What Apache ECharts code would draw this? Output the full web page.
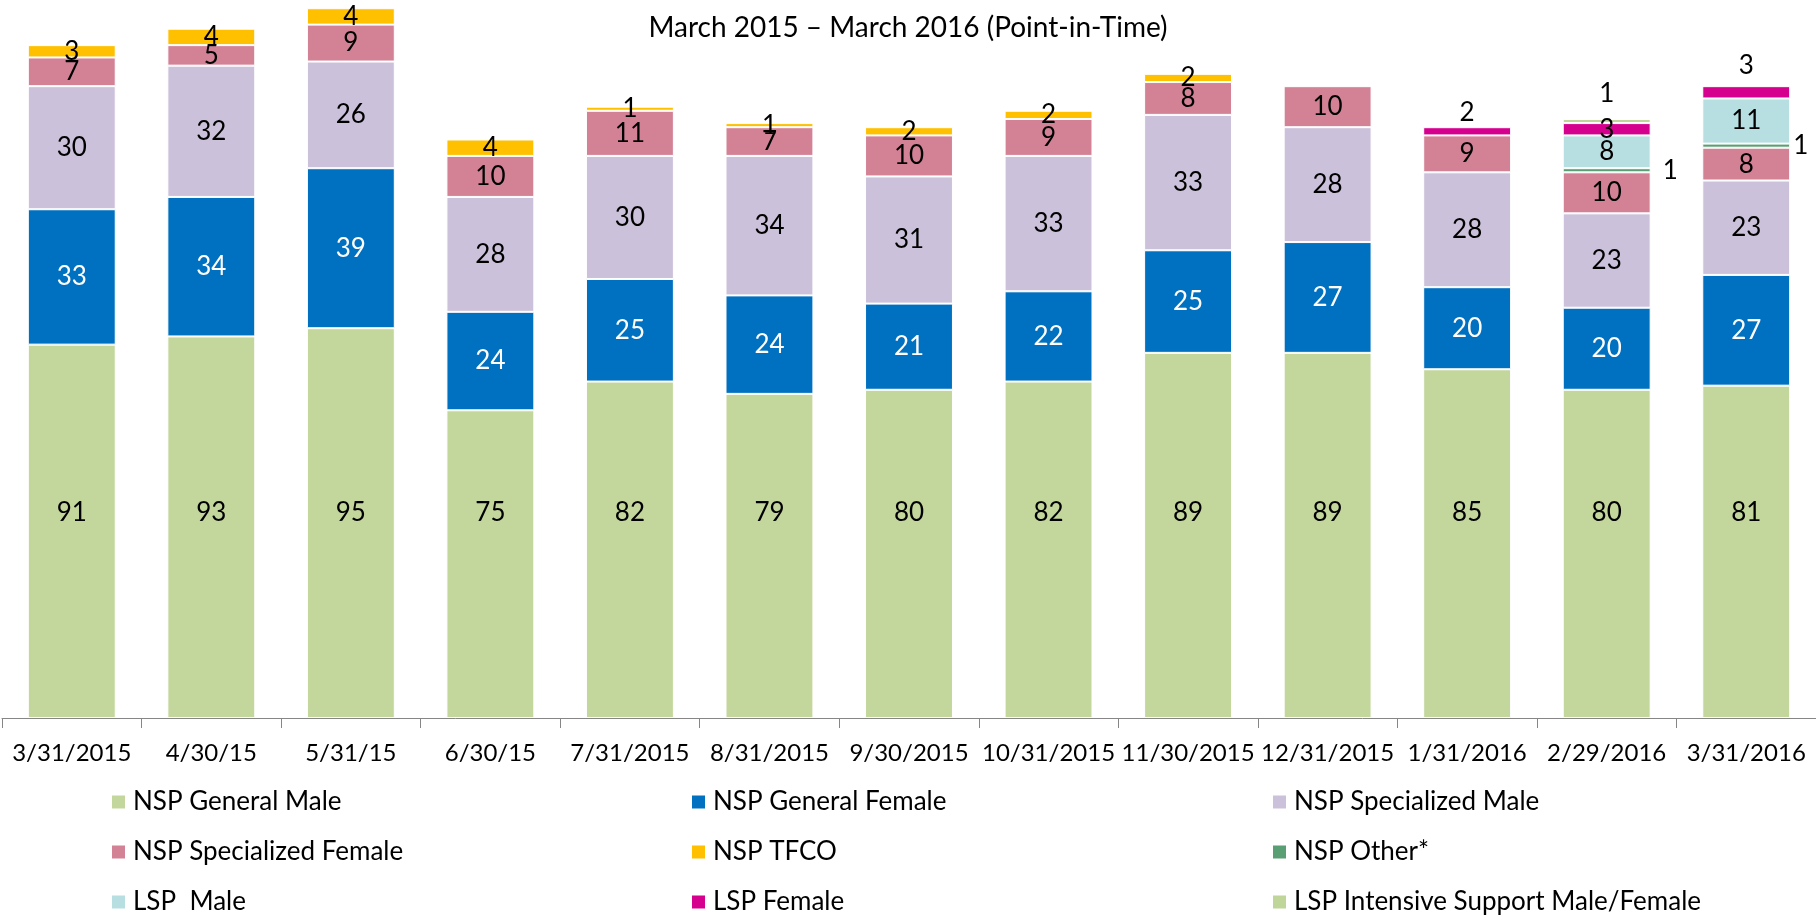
<!DOCTYPE html>
<html>
<head>
<meta charset="utf-8">
<script src="https://cdn.jsdelivr.net/npm/echarts@6/dist/echarts.min.js"></script>
<style>
  html, body { margin: 0; padding: 0; background: #fff; }
  #chart { width: 1816px; height: 918px; }
</style>
</head>
<body>
<div id="chart"></div>
<script>
// 日期（类目）
const dates = ['3/31/2015', '4/30/15', '5/31/15', '6/30/15', '7/31/2015', '8/31/2015', '9/30/2015',
  '10/31/2015', '11/30/2015', '12/31/2015', '1/31/2016', '2/29/2016', '3/31/2016'];

// 各系列数值（null = 无）
const nspGeneralMale = [91, 93, 95, 75, 82, 79, 80, 82, 89, 89, 85, 80, 81];
const nspGeneralFemale = [33, 34, 39, 24, 25, 24, 21, 22, 25, 27, 20, 20, 27];
const nspSpecializedMale = [30, 32, 26, 28, 30, 34, 31, 33, 33, 28, 28, 23, 23];
const nspSpecializedFemale = [7, 5, 9, 10, 11, 7, 10, 9, 8, 10, 9, 10, 8];
const nspTfco = [3, 4, 4, 4, 1, 1, 2, 2, 2, null, null, null, null];
const nspOther = [null, null, null, null, null, null, null, null, null, null, null, 1, 1];
const lspMale = [null, null, null, null, null, null, null, null, null, null, null, 8, 11];
const lspFemale = [null, null, null, null, null, null, null, null, null, null, 2, 3, 3];
const lspIntensive = [null, null, null, null, null, null, null, null, null, null, null, 1, null];

const FONT = 'Lato, "Open Sans", sans-serif';

// 单个柱子标签位置调整（像 Excel 里手动拖过的那些）
const labelOverrides = {
  'LSP Female': { 10: { position: 'top', distance: 2 }, 12: { position: 'top', distance: 8 } },
  'NSP Other*': { 12: { position: 'right', distance: 3 } }
};

const makeSeries = (name, values, color, labelColor, labelExtra) => {
  const over = labelOverrides[name] || {};
  return {
    name: name,
    type: 'bar',
    stack: 'total',
    barCategoryGap: '37%',
    itemStyle: { color: color, borderColor: '#fff', borderWidth: 1 },
    label: Object.assign({
      show: true,
      position: 'inside',
      color: labelColor,
      fontSize: 26,
      fontFamily: FONT
    }, labelExtra || {}),
    data: values.map((v, i) => over[i] ? { value: v, label: over[i] } : v)
  };
};

const myChart = echarts.init(document.getElementById('chart'));

const legendStyle = (left, items) => ({
  orient: 'vertical',
  left: left,
  top: 789,
  padding: 0,
  itemWidth: 15,
  itemHeight: 15,
  itemGap: 24,
  icon: 'rect',
  data: items,
  textStyle: { fontSize: 26, fontFamily: FONT, color: '#000', lineHeight: 26, padding: [0, 0, 0, 2] }
});

const option = {
  animation: false,
  title: {
    text: 'March 2015 \u2013 March 2016 (Point-in-Time)',
    left: 'center',
    top: 9,
    textStyle: { fontSize: 28, fontWeight: 'normal', fontFamily: FONT, color: '#000' }
  },
  legend: [
    legendStyle(110, ['NSP General Male', 'NSP Specialized Female', 'LSP  Male']),
    legendStyle(690, ['NSP General Female', 'NSP TFCO', 'LSP Female']),
    legendStyle(1271, ['NSP Specialized Male', 'NSP Other*', 'LSP Intensive Support Male/Female'])
  ],
  grid: { left: 2, right: 0, top: 0, bottom: 200, containLabel: false },
  xAxis: {
    type: 'category',
    data: dates,
    axisLine: { lineStyle: { color: '#868686', width: 1 } },
    axisTick: { show: true, length: 10, lineStyle: { color: '#868686' } },
    axisLabel: { interval: 0, margin: 23, fontSize: 24, fontFamily: FONT, color: '#000' }
  },
  yAxis: {
    type: 'value',
    min: 0,
    max: 175,
    show: false,
    splitLine: { show: false }
  },
  series: [
    makeSeries('NSP General Male', nspGeneralMale, '#C3D69B', '#000', { position: 'insideBottom', distance: 192 }),
    makeSeries('NSP General Female', nspGeneralFemale, '#0070C0', '#fff'),
    makeSeries('NSP Specialized Male', nspSpecializedMale, '#CCC1DA', '#000'),
    makeSeries('NSP Specialized Female', nspSpecializedFemale, '#D38296', '#000'),
    makeSeries('NSP TFCO', nspTfco, '#FFC000', '#000'),
    makeSeries('NSP Other*', nspOther, '#5A9E74', '#000', { position: 'right', distance: 12 }),
    makeSeries('LSP  Male', lspMale, '#B7DEE1', '#000'),
    makeSeries('LSP Female', lspFemale, '#D6008F', '#000'),
    makeSeries('LSP Intensive Support Male/Female', lspIntensive, '#BFD59A', '#000', { position: 'top', distance: 12 })
  ]
};

myChart.setOption(option);
</script>
</body>
</html>
